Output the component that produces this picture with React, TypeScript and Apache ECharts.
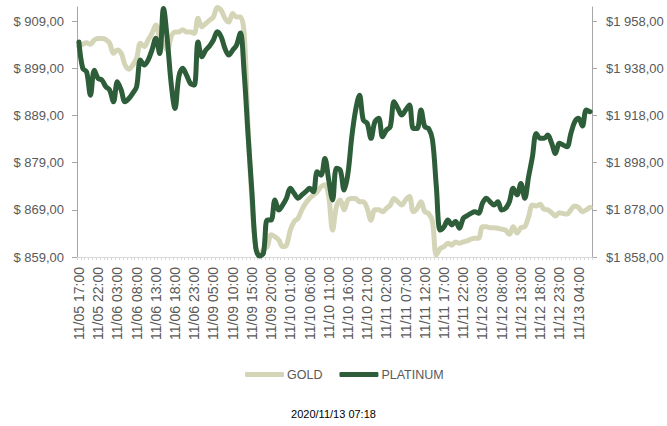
import React, { useEffect, useRef } from "react";
import * as echarts from "echarts";

const categories: string[] = [
  "11/05 17:00", "11/05 18:00", "11/05 19:00", "11/05 20:00", "11/05 21:00", "11/05 22:00", "11/05 23:00",
  "11/06 00:00", "11/06 01:00", "11/06 02:00", "11/06 03:00", "11/06 04:00", "11/06 05:00", "11/06 06:00", "11/06 07:00",
  "11/06 08:00", "11/06 09:00", "11/06 10:00", "11/06 11:00", "11/06 12:00", "11/06 13:00", "11/06 14:00", "11/06 15:00",
  "11/06 16:00", "11/06 17:00", "11/06 18:00", "11/06 19:00", "11/06 20:00", "11/06 21:00", "11/06 22:00", "11/06 23:00",
  "11/09 01:00", "11/09 02:00", "11/09 03:00", "11/09 04:00", "11/09 05:00", "11/09 06:00", "11/09 07:00", "11/09 08:00",
  "11/09 09:00", "11/09 10:00", "11/09 11:00", "11/09 12:00", "11/09 13:00", "11/09 14:00", "11/09 15:00", "11/09 16:00",
  "11/09 17:00", "11/09 18:00", "11/09 19:00", "11/09 20:00", "11/09 21:00", "11/09 22:00", "11/09 23:00",
  "11/10 00:00", "11/10 01:00", "11/10 02:00", "11/10 03:00", "11/10 04:00", "11/10 05:00", "11/10 06:00", "11/10 07:00",
  "11/10 08:00", "11/10 09:00", "11/10 10:00", "11/10 11:00", "11/10 12:00", "11/10 13:00", "11/10 14:00", "11/10 15:00",
  "11/10 16:00", "11/10 17:00", "11/10 18:00", "11/10 19:00", "11/10 20:00", "11/10 21:00", "11/10 22:00", "11/10 23:00",
  "11/11 00:00", "11/11 01:00", "11/11 02:00", "11/11 03:00", "11/11 04:00", "11/11 05:00", "11/11 06:00", "11/11 07:00",
  "11/11 08:00", "11/11 09:00", "11/11 10:00", "11/11 11:00", "11/11 12:00", "11/11 13:00", "11/11 14:00", "11/11 15:00",
  "11/11 16:00", "11/11 17:00", "11/11 18:00", "11/11 19:00", "11/11 20:00", "11/11 21:00", "11/11 22:00", "11/11 23:00",
  "11/12 00:00", "11/12 01:00", "11/12 02:00", "11/12 03:00", "11/12 04:00", "11/12 05:00", "11/12 06:00", "11/12 07:00",
  "11/12 08:00", "11/12 09:00", "11/12 10:00", "11/12 11:00", "11/12 12:00", "11/12 13:00", "11/12 14:00", "11/12 15:00",
  "11/12 16:00", "11/12 17:00", "11/12 18:00", "11/12 19:00", "11/12 20:00", "11/12 21:00", "11/12 22:00", "11/12 23:00",
  "11/13 00:00", "11/13 01:00", "11/13 02:00", "11/13 03:00", "11/13 04:00", "11/13 05:00", "11/13 06:00", "11/13 07:00",
];

const gold: number[] = [
  903.6, 904.1, 904.4, 904.1, 905, 905.3, 905.3, 905.1, 904.3, 902.2, 902.9, 902.2, 899.7, 898.8, 899.7, 901.1,
  904.3, 903.6, 905, 906.4, 908.2, 905.7, 904.3, 902.9, 905.7, 906.7, 906.7, 907.2, 906.7, 906.7, 906.4, 909.6,
  907.8, 908.5, 909.2,
  909.9, 911.9, 911.3, 909.6, 908.8, 910.6, 909.9, 909.9, 906.4, 886.6, 871.1, 861.2, 859.4, 860.5, 861.2, 863.7,
  863.3, 862.6, 861.2, 861.5, 864.7, 866.5, 867.2, 869, 870.4, 871.4, 872.1, 872.8, 873.9, 874.3, 871.8, 864.7,
  869.7, 871.1,
  869, 871.1, 871.4, 871.4, 870.7, 870.7, 869.3, 866.8, 869, 869, 868.6, 869.3, 870, 871.4, 870.7, 870, 871.1,
  871.8, 868.6, 869.3, 870.7, 868.6, 868.2, 866.5, 859.4, 860.8, 861.2, 861.9, 861.5, 862.2, 861.9, 862.2, 862.4,
  862.8, 863, 863, 865.4, 865.4, 865.2, 865.2, 865.1, 864.9, 864.7, 863.8, 865.4, 864.1, 865.2, 865.4, 867.5,
  870, 869.8, 870.2, 869.1, 869, 868.4, 867.7, 868.4, 868.2, 868.1, 869, 869.8, 869.5, 868.6, 869, 869.5,
];

const platinum: number[] = [
  1949.2, 1938, 1936.5, 1926.6, 1937.2, 1933.7, 1933, 1930.2, 1928.8, 1923.8, 1932.3, 1928.8, 1923.8, 1925.2,
  1927.4, 1930.2, 1941.5, 1939.4, 1941.5, 1945.7, 1950.7, 1944.3, 1963.4, 1950, 1931.6, 1921, 1934.4, 1938,
  1935.1, 1931.6, 1930.9, 1949.2, 1942.9, 1945.7, 1947.5,
  1950, 1953.5, 1951.4, 1946.4, 1943.6, 1945.7, 1947.8, 1953, 1936, 1910, 1886, 1862, 1858.4, 1859.6, 1873.7,
  1873.7, 1882.2, 1877.9, 1880, 1882.9, 1887.1, 1885, 1882.9, 1884.3, 1885.7, 1887.1, 1885.7, 1894.1, 1892.7,
  1899.8, 1890.6, 1882.2, 1895.6, 1894.9,
  1886.4, 1893.5, 1909, 1920.3, 1926.6, 1916, 1914.7, 1908.3, 1915.3, 1916.8, 1909, 1911.8, 1913.2, 1923.8,
  1921, 1918.2, 1920.3, 1922.4, 1912.5, 1912.5, 1920.3, 1913.2, 1912.5, 1907.6, 1887.8, 1869.4, 1870.8, 1873.7,
  1871.6, 1873, 1870.2, 1874.4, 1875.5,
  1876.5, 1877.2, 1876.5, 1880.8, 1882.9, 1881.4, 1880, 1881.4, 1877.9, 1878.6, 1881.4, 1887.1, 1884.3, 1889.2,
  1882.9, 1892, 1900.5, 1910.4, 1908.3, 1908.3, 1909.7, 1906.2, 1901.9, 1906.2, 1905.5, 1904.7, 1910.4, 1915.3,
  1916.8, 1913.5, 1920.3, 1919.6,
];

const leftTicks: number[] = [859, 869, 879, 889, 899, 909];
const rightTicks: number[] = [1858, 1878, 1898, 1918, 1938, 1958];
const seriesNames: string[] = ["GOLD", "PLATINUM"];
const timestamp = "2020/11/13 07:18";

const GOLD_COLOR = "#d4d5b7";
const PLAT_COLOR = "#2e5d3a";
const TEXT_COLOR = "#595959";
const FONT = "Liberation Sans";

function fmtLeft(v: number): string {
  return "$ " + v.toFixed(2).replace(".", ",");
}
function fmtRight(v: number): string {
  const [i, d] = v.toFixed(2).split(".");
  return "$" + i.replace(/\B(?=(\d{3})+(?!\d))/g, " ") + "," + d;
}

export default function App() {
  const ref = useRef<HTMLDivElement>(null);
  useEffect(() => {
    const chart = echarts.init(ref.current!, null, { renderer: "svg" });
    chart.setOption({
      animation: false,
      backgroundColor: "#ffffff",
      textStyle: { fontFamily: FONT },
      grid: { left: 77, right: 75, top: 7, bottom: 169, containLabel: false },
      legend: {
        data: seriesNames,
        top: 363,
        left: 240,
        icon: "roundRect",
        itemWidth: 39,
        itemHeight: 5,
        itemGap: 17,
        textStyle: { color: TEXT_COLOR, fontSize: 12.5, fontFamily: FONT, padding: [0, 0, 0, -2] },
      },
      graphic: [
        {
          type: "text",
          left: "center",
          top: 408,
          style: { text: timestamp, fill: "#000000", fontSize: 11, fontFamily: FONT },
        },
      ],
      xAxis: {
        type: "category",
        data: categories,
        boundaryGap: true,
        axisLine: { lineStyle: { color: "#d9d9d9" } },
        axisTick: { show: true, interval: 0, length: 3, lineStyle: { color: "#d9d9d9" } },
        axisLabel: {
          interval: 4,
          rotate: 90,
          margin: 10,
          color: TEXT_COLOR,
          fontSize: 14,
          fontFamily: FONT,
        },
        splitLine: { show: false },
      },
      yAxis: [
        {
          type: "value",
          position: "left",
          min: 859,
          max: 912,
          axisLine: { show: true, lineStyle: { color: "#a6a6a6" } },
          axisTick: { show: true, length: 5, lineStyle: { color: "#a6a6a6" }, customValues: leftTicks },
          axisLabel: {
            customValues: leftTicks,
            formatter: (v: number) => fmtLeft(v),
            color: TEXT_COLOR,
            fontSize: 13,
            fontFamily: FONT,
            margin: 13,
          },
          splitLine: { show: false },
        },
        {
          type: "value",
          position: "right",
          min: 1858,
          max: 1964,
          axisLine: { show: true, lineStyle: { color: "#a6a6a6" } },
          axisTick: { show: true, length: 5, lineStyle: { color: "#a6a6a6" }, customValues: rightTicks },
          axisLabel: {
            customValues: rightTicks,
            formatter: (v: number) => fmtRight(v),
            color: TEXT_COLOR,
            fontSize: 13,
            fontFamily: FONT,
            margin: 14,
          },
          splitLine: { show: false },
        },
      ],
      series: [
        {
          name: seriesNames[0],
          type: "line",
          yAxisIndex: 0,
          data: gold,
          symbol: "none",
          smooth: 0.35,
          color: GOLD_COLOR,
          lineStyle: { color: GOLD_COLOR, width: 5, cap: "round", join: "round" },
        },
        {
          name: seriesNames[1],
          type: "line",
          yAxisIndex: 1,
          data: platinum,
          symbol: "none",
          smooth: 0.35,
          color: PLAT_COLOR,
          lineStyle: { color: PLAT_COLOR, width: 5, cap: "round", join: "round" },
        },
      ],
    });
    return () => chart.dispose();
  }, []);
  return (
    <div
      ref={ref}
      style={{ position: "fixed", left: 0, top: 0, width: 667, height: 426, background: "#ffffff" }}
    />
  );
}
